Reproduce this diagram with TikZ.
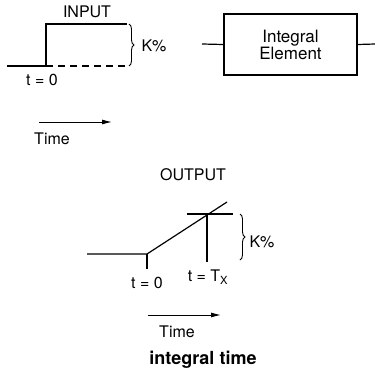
\documentclass[tikz,border=0pt]{standalone}
\usepackage{fontspec}
\setmainfont{TeX Gyre Heros}
\usetikzlibrary{arrows.meta,decorations.pathreplacing}
\begin{document}
\begin{tikzpicture}[x=1pt,y=-1pt,
  lbl/.style={font=\fontsize{16}{19}\selectfont, inner sep=0pt},
  ln/.style={line width=1.2pt},
  brc/.style={line width=0.9pt, decorate, decoration={brace, amplitude=5pt}},
  timearrow/.style={line width=1pt, -{Latex[length=10pt,width=5pt]}},
  elem/.style={draw, line width=1.2pt, minimum width=133pt, minimum height=61pt, inner sep=0pt, align=center, font=\fontsize{17}{19}\selectfont}]
\useasboundingbox (0,0) rectangle (375,372);
% INPUT graph
\node[lbl] (inp) at (87,12) {INPUT};
\coordinate (i0) at (7,66);
\coordinate (i1) at (46,66);
\coordinate (i2) at (46,24);
\coordinate (i3) at (127,24);
\coordinate (i4) at (127,66);
\draw[ln] (i0) -- (i1) -- (i2) -- (i3);
\draw[ln, dash pattern=on 7pt off 5pt] (i1) -- (i4);
\draw[brc] (129,24) -- (129,66);
\node[lbl] (k1) at (154,46) {K\%};
\node[lbl] (t0a) at (42,80) {t = 0};
\coordinate (a1s) at (39,122);
\coordinate (a1e) at (112,122);
\draw[timearrow] (a1s) -- (a1e);
\node[lbl] (time1) at (52,139) {Time};
% Integral element
\node[elem] (el) at (290.5,44.5) {Integral\\[-2pt]Element};
\coordinate (inl) at (202,44);
\coordinate (outr) at (375,44);
\draw[ln] (inl) -- (el.west);
\draw[ln] (el.east) -- (outr);
% OUTPUT graph
\node[lbl] (outp) at (193,175) {OUTPUT};
\coordinate (o0) at (87,254);
\coordinate (o1) at (147,254);
\coordinate (o1b) at (147,269);
\coordinate (o2) at (227,202);
\coordinate (h0) at (187,214);
\coordinate (h1) at (233,214);
\coordinate (v0) at (207,214);
\coordinate (v1) at (207,262);
\draw[ln] (o0) -- (o1) -- (o2);
\draw[ln] (o1) -- (o1b);
\draw[ln] (h0) -- (h1);
\draw[ln] (v0) -- (v1);
\draw[brc] (240,214) -- (240,260);
\node[lbl] (k2) at (262,242) {K\%};
\node[lbl] (t0b) at (147,283) {t = 0};
\node[lbl] (tx) at (208,277) {t = T\textsubscript{X}};
\coordinate (a2s) at (148,315);
\coordinate (a2e) at (221,315);
\draw[timearrow] (a2s) -- (a2e);
\node[lbl] (time2) at (177,332) {Time};
\node[lbl, font=\fontsize{18}{20}\selectfont\bfseries] (cap) at (203,360) {integral time};
\end{tikzpicture}
\end{document}
